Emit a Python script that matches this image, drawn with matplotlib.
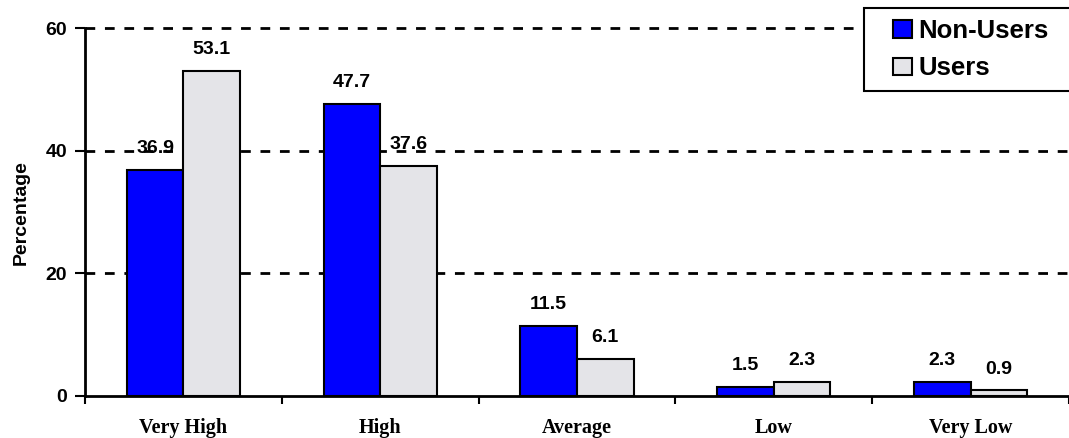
import matplotlib.pyplot as plt
from matplotlib.patches import Rectangle
import numpy as np

categories = ['Very High', 'High', 'Average', 'Low', 'Very Low']
non_users = [36.9, 47.7, 11.5, 1.5, 2.3]
users = [53.1, 37.6, 6.1, 2.3, 0.9]

W, H = 1069, 438
fig = plt.figure(figsize=(W / 100, H / 100), dpi=100)
ax = fig.add_axes([85 / W, 42 / H, 984 / W, 367.7 / H])

x = np.arange(len(categories))
w = 0.288

b1 = ax.bar(x - w / 2, non_users, w, color='#0000ff', edgecolor='black', linewidth=1.5,
            label='Non-Users', zorder=3)
b2 = ax.bar(x + w / 2, users, w, color='#e4e4e8', edgecolor='black', linewidth=1.5,
            label='Users', zorder=3)

# value labels above each bar
for bars, vals in [(b1, non_users), (b2, users)]:
    for rect, v in zip(bars, vals):
        ax.annotate(f'{v:.1f}', (rect.get_x() + rect.get_width() / 2, rect.get_height()),
                    xytext=(0, 9), textcoords='offset points', ha='center', va='bottom',
                    fontsize=14, fontweight='bold', family='Liberation Sans', zorder=4)

ax.set_ylim(0, 60)
ax.set_xlim(-0.5, -0.5 + 984 / 198)
ax.set_yticks([0, 20, 40, 60])
ax.set_yticklabels(['0', '20', '40', '60'], fontsize=14, fontweight='bold', family='Liberation Sans')
for yv in [20, 40, 60]:
    ax.axhline(yv, color='black', linestyle=(0, (3.5, 3.5)), linewidth=2, zorder=1, clip_on=False)

ax.set_xticks(np.arange(-0.5, len(categories), 1.0))
ax.set_xticklabels([])
ax.set_xticks(x, minor=True)
ax.set_xticklabels(categories, minor=True, fontsize=14.5, fontweight='bold', family='Liberation Serif')
ax.tick_params(axis='x', which='minor', length=0, pad=16)
ax.tick_params(axis='x', which='major', length=6, width=1.5, direction='out')
ax.tick_params(axis='y', length=7, width=1.5, direction='out', pad=6)

for s in ['top', 'right']:
    ax.spines[s].set_visible(False)
ax.spines['left'].set_linewidth(2)
ax.spines['bottom'].set_linewidth(2)

ax.set_ylabel('Percentage', fontsize=14, fontweight='bold', family='Liberation Sans', labelpad=11)

# legend box
fig.patches.append(Rectangle((864 / W, 1 - 91 / H), 220 / W, 83 / H, transform=fig.transFigure,
                             facecolor='white', edgecolor='black', linewidth=1.5, zorder=5))
leg = fig.legend(handles=[b1, b2], loc='upper left', bbox_to_anchor=(893 / W, 1 - 19 / H),
                 prop={'family': 'Liberation Sans', 'weight': 'bold', 'size': 18.5},
                 frameon=False, handlelength=0.74, handleheight=0.66, handletextpad=0.25,
                 borderpad=0, labelspacing=0.52, borderaxespad=0)
leg.set_zorder(6)

fig.savefig('out.png', dpi=100)
